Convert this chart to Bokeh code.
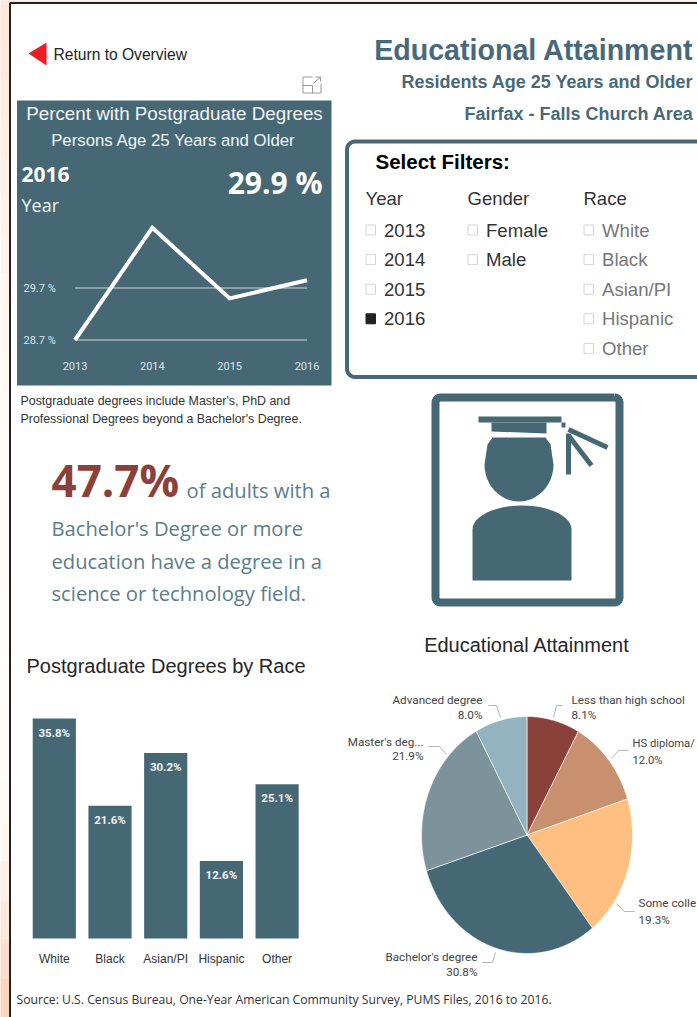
import math
from bokeh.plotting import figure
from bokeh.models import Range1d
from bokeh.core.properties import value
from bokeh.embed import file_html
from bokeh.resources import INLINE

# ---------- data ----------
line_years = ["2013", "2014", "2015", "2016"]
line_values = [28.7, 30.86, 29.5, 29.85]
line_ticks = [28.7, 29.7]
line_tick_labels = ["28.7 %", "29.7 %"]

races = ["White", "Black", "Asian/PI", "Hispanic", "Other"]
race_values = [35.8, 21.6, 30.2, 12.6, 25.1]

pie_labels = ["Less than high school", "HS diploma/", "Some colle",
              "Bachelor's degree", "Master's deg...", "Advanced degree"]
pie_values = [8.1, 12.0, 19.3, 30.8, 21.9, 8.0]

years_filter = ["2013", "2014", "2015", "2016"]
gender_filter = ["Female", "Male"]
race_filter = ["White", "Black", "Asian/PI", "Hispanic", "Other"]

# ---------- styles / layout ----------
W, H = 697, 1017
OFF = 1  # the picture sits one pixel right of and below the range origin
TEAL = "#466875"
pie_colors = ["#8a4139", "#c9906f", "#ffbf80", "#466875", "#7c939c", "#93b4be"]
SANS = "Liberation Sans"
HUM = "Open Sans"

p = figure(width=W, height=H, x_range=Range1d(OFF, W + OFF), y_range=Range1d(H + OFF, OFF),
           output_backend="svg", toolbar_location=None, min_border=0,
           x_axis_type=None, y_axis_type=None, outline_line_color=None,
           background_fill_color="white", border_fill_color="white")
p.grid.visible = False


def anchored_x(v0, px0, v1, px1):
    k = (v1 - v0) / (px1 - px0)
    return Range1d(start=v0 - (px0 - OFF) * k, end=v0 + (W - px0 + OFF) * k)


def anchored_y(v0, px0, v1, px1):
    # the frame's bottom pixel is the range start, its top pixel the end
    k = (v1 - v0) / (px1 - px0)
    return Range1d(start=v0 + (H - px0 + OFF) * k, end=v0 - (px0 - OFF) * k)


def txt(x, y, s, size, color="#333333", font=SANS, style="normal", align="left", base="middle", **kw):
    p.text([x], [y], text=[s], text_font=value(font), text_font_size=f"{size}px",
           text_color=color, text_font_style=style, text_align=align,
           text_baseline=base, **kw)


def rounded(x0, y0, x1, y1, r, n=6):
    xs, ys = [], []
    for cx, cy, a0 in [(x1 - r, y0 + r, -90), (x1 - r, y1 - r, 0), (x0 + r, y1 - r, 90), (x0 + r, y0 + r, 180)]:
        for i in range(n + 1):
            a = math.radians(a0 + 90 * i / n)
            xs.append(cx + r * math.cos(a))
            ys.append(cy + r * math.sin(a))
    return xs + xs[:1], ys + ys[:1]


# ---------- page background ----------
strip_tints = ["#fde8da", "#fdeadd", "#fdece0", "#feeee3", "#fef0e7", "#fef2ea", "#fef4ee", "#fff6f0",
               "#fff7f3", "#fff9f5", "#fffaf7", "#fffbf9", "#fffcfa", "#fffdfb", "#fffdfc", "#fffefd",
               "#fffefd", "#fffefd", "#fffdfc", "#fffcfa", "#fffaf7", "#fef6f1", "#fef0e8", "#fde8dc",
               "#fbdfce", "#fad5bf"]
n = len(strip_tints)
p.quad(left=0, right=9, top=[(H + 2) * i / n for i in range(n)], bottom=[(H + 2) * (i + 1) / n for i in range(n)],
       fill_color=strip_tints, line_color=strip_tints)
p.quad(left=0, right=W + 2, top=0, bottom=2, fill_color="#fde8da", line_color="#fde8da")
p.line([10.5, 10.5, W + 2], [H + 2, 3.5, 3.5], line_color="#222222", line_width=2)

# ---------- return link ----------
p.patch([29, 47, 47], [54, 43, 66], fill_color="#ee1c25", line_color=None)
txt(54, 54.5, "Return to Overview", 15.6, "#222222")

# focus icon
p.multi_line([[313, 303.5, 303.5, 321.5, 321.5], [303.5, 313, 313], [314, 321], [316, 321, 321]],
             [[77.5, 77.5, 93.5, 93.5, 84], [86, 86, 93.5], [84, 77.5], [77.5, 77.5, 82]],
             line_color="#9a9a9a", line_width=1)

# ---------- KPI panel ----------
p.quad(left=17.5, right=332, top=101, bottom=386, fill_color=TEAL, line_color=None)
txt(175, 114, "Percent with Postgraduate Degrees", 18.8, "#f2f5f6", SANS, align="center")
txt(174, 141, "Persons Age 25 Years and Older", 16.8, "#f2f5f6", SANS, align="center")
txt(22, 175, "2016", 21, "white", HUM, "bold")
txt(22, 205, "Year", 18, "#f2f5f6", HUM)
txt(323, 183, "29.9 %", 30, "white", HUM, "bold", align="right")

p.extra_x_ranges["line_x"] = anchored_x(0, 75.5, 3, 307.5)
p.extra_y_ranges["line_y"] = anchored_y(28.7, 340.5, 29.7, 288.5)
for t, lab in zip(line_ticks, line_tick_labels):
    p.line([0, 3], [t, t], x_range_name="line_x", y_range_name="line_y", line_color="#a3b4ba", line_width=1.5)
    p.text([24], [t], text=[lab], y_range_name="line_y", text_font=value("Roboto"), text_font_size="11px",
           text_color="#dfe6e9", text_baseline="middle")
line_x = list(range(len(line_years)))
p.line(line_x, line_values, x_range_name="line_x", y_range_name="line_y", line_color="white", line_width=4,
       line_join="miter")
p.text(line_x, [366] * 4, text=line_years, x_range_name="line_x", text_font=value("Roboto"), text_font_size="11px",
       text_color="#dfe6e9", text_align="center", text_baseline="middle")

txt(21, 401, "Postgraduate degrees include Master's, PhD and", 12.4, "#333333")
txt(21, 419, "Professional Degrees beyond a Bachelor's Degree.", 12.4, "#333333")

# ---------- big stat ----------
txt(52, 480, "47.7%", 44, "#8b4139", HUM, "bold")
txt(187, 490, "of adults with a", 20.2, "#5b7c8b", HUM)
txt(52, 528, "Bachelor's Degree or more", 20.2, "#5b7c8b", HUM)
txt(52, 561, "education have a degree in a", 20.2, "#5b7c8b", HUM)
txt(52, 593, "science or technology field.", 20.2, "#5b7c8b", HUM)

# ---------- headings ----------
txt(694, 50, "Educational Attainment", 28.6, "#47697a", SANS, "bold", align="right")
txt(694, 82, "Residents Age 25 Years and Older", 18, "#47697a", SANS, "bold", align="right")
txt(694, 114, "Fairfax - Falls Church Area", 18, "#47697a", SANS, "bold", align="right")

# ---------- filters ----------
bx, by = rounded(347.5, 142, 760, 377.5, 8)
p.line(bx, by, line_color=TEAL, line_width=4)
txt(376, 162, "Select Filters:", 20.5, "#000000", SANS, "bold")
for x, head, items, col in [(366, "Year", years_filter, "#333333"), (468, "Gender", gender_filter, "#333333"),
                            (584, "Race", race_filter, "#777777")]:
    txt(x, 199, head, 18.5, "#333333")
    for i, it in enumerate(items):
        y = 230.5 + 29.6 * i
        on = it == "2016"
        p.quad(left=x + 0.5, right=x + 10, top=y - 5, bottom=y + 5,
               fill_color="#222222" if on else "white", line_color="#222222" if on else "#d4d4d4")
        txt(x + 18.5, y, it, 18.6, col)

# ---------- icon ----------
fx, fy = rounded(436, 398, 620, 603, 5)
p.line(fx, fy, line_color=TEAL, line_width=8)
p.quad(left=479, right=562, top=417, bottom=423, fill_color=TEAL, line_color=None)
p.patch([492, 547, 547, 492], [423, 423, 434, 432], fill_color=TEAL, line_color=None)
head_t = [i / 24 * math.pi for i in range(25)]
p.patch([546, 551, 554] + [519.5 + 34.5 * math.cos(t) for t in head_t] + [488, 493],
        [438, 445, 465] + [465 + 37 * math.sin(t) for t in head_t] + [445, 438],
        fill_color=TEAL, line_color=None)
body_t = [math.pi + i / 24 * math.pi for i in range(25)]
p.patch([473] + [522.5 + 49.5 * math.cos(t) for t in body_t] + [572],
        [581] + [530 + 24 * math.sin(t) for t in body_t] + [581],
        fill_color=TEAL, line_color=None)
p.multi_line([[569, 608], [569, 592], [569, 569]], [[430, 448], [436, 466], [434, 475]],
             line_color=TEAL, line_width=5)
p.quad(left=562, right=566, top=423, bottom=428, fill_color=TEAL, line_color=None)

# ---------- bar chart ----------
txt(27, 666, "Postgraduate Degrees by Race", 20, "#262626")
p.extra_x_ranges["bar_x"] = anchored_x(0, 54.8, 4, 277.6)
p.extra_y_ranges["bar_y"] = anchored_y(0, 939, 35.8, 719)
bar_x = list(range(len(races)))
p.vbar(x=bar_x, top=race_values, bottom=0, width=0.775, x_range_name="bar_x", y_range_name="bar_y",
       fill_color=TEAL, line_color=None)
p.text(bar_x, race_values, text=[f"{v:.1f}%" for v in race_values], x_range_name="bar_x", y_range_name="bar_y",
       y_offset=14, text_font=value("Roboto"), text_font_size="11.5px", text_font_style="bold", text_color="#f2f5f6",
       text_align="center", text_baseline="middle")
p.text(bar_x, [0] * 5, text=races, x_range_name="bar_x", y_range_name="bar_y", y_offset=20.5,
       text_font=value(SANS), text_font_size="12px", text_color="#333333", text_align="center",
       text_baseline="middle")

# ---------- pie ----------
txt(527.5, 645, "Educational Attainment", 20, "#262626", align="center")
p.extra_x_ranges["pie_x"] = anchored_x(0, 527.5, 1, 633)
p.extra_y_ranges["pie_y"] = anchored_y(0, 835.5, 1, 717)
total = sum(pie_values)
cum = 0
for val, col in zip(pie_values, pie_colors):
    a0 = cum / total * 2 * math.pi
    cum += val
    a1 = cum / total * 2 * math.pi
    steps = max(4, int((a1 - a0) / 0.03))
    ang = [a0 + (a1 - a0) * i / steps for i in range(steps + 1)]
    p.patch([0] + [math.sin(a) for a in ang], [0] + [math.cos(a) for a in ang], x_range_name="pie_x",
            y_range_name="pie_y", fill_color=col, line_color="white", line_width=0.6)

# label layout: text x, align, name y, value y, font size; leader polyline (all pixels)
pie_layout = [
    (572, "left", 700, 715, 11.7, [554, 557, 563], [718, 706, 706]),
    (633, "left", 744, 761, 11.2, [612, 619, 629], [759, 751, 751]),
    (639, "left", 903, 920, 11.7, [617, 625, 635], [904, 912, 912]),
    (478, "right", 957, 972, 11.7, [496, 493, 483], [953, 963, 963]),
    (424, "right", 742, 756, 11.7, [447, 440, 429], [755, 747, 747]),
    (483, "right", 700, 715, 11.7, [501, 497, 489], [718, 706, 706]),
]
for lab, val, (tx, al, y1, y2, fs, lx, ly) in zip(pie_labels, pie_values, pie_layout):
    txt(tx, y1, lab, fs, "#444444", "Roboto", align=al)
    txt(tx, y2, f"{val:.1f}%", fs, "#444444", "Roboto", align=al)
    p.line(lx, ly, line_color="#b5b5b5", line_width=1)

txt(17, 1000, "Source: U.S. Census Bureau, One-Year American Community Survey, PUMS Files, 2016 to 2016.", 12.2, "#333333", HUM)

open("out.html", "w").write(file_html(p, INLINE))
